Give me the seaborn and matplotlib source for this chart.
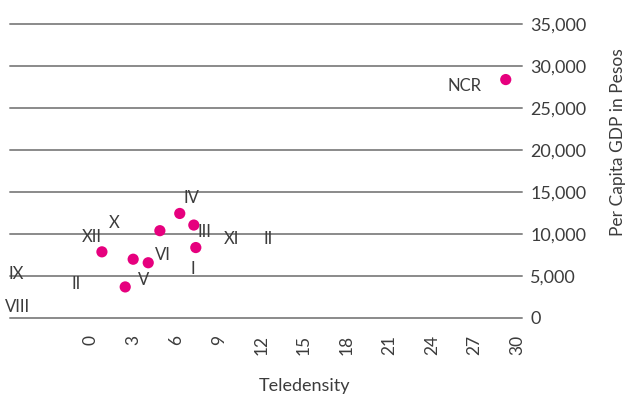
import numpy as np
import pandas as pd
import matplotlib.pyplot as plt
import seaborn as sns

# point data (teledensity, per capita GDP)
tele = [29.2, 6.25, 7.24, 4.85, 7.38, 0.77, 2.97, 4.03, 2.41]
gdp = [28400, 12450, 11070, 10400, 8390, 7880, 7000, 6580, 3700]

# region labels and where they sit
labels = ["NCR", "IV", "X", "XII", "III", "XI", "II", "VI", "I", "IX", "II", "V", "VIII"]
label_x = [26.3, 7.1, 1.62, 0.07, 8.0, 9.9, 12.5, 5.06, 7.17, -5.27, -1.05, 3.73, -5.2]
label_y = [27600, 14340, 11260, 9600, 10300, 9370, 9370, 7560, 5830, 5200, 4100, 4500, 1330]

xticks = list(range(0, 31, 3))
yticks = list(range(0, 35001, 5000))

df = pd.DataFrame({"tele": tele, "gdp": gdp})

sns.set_style("white")
plt.rcParams["font.family"] = ["Lato", "DejaVu Sans"]
txt = "#3c3c3c"

fig = plt.figure(figsize=(6.26, 3.96), dpi=100)
ax = fig.add_axes([0.016, 0.197, 0.818, 0.742])

for v in yticks:
    ax.axhline(v, color="#8a8a8a", lw=1.4, zorder=1, clip_on=False)

sns.scatterplot(data=df, x="tele", y="gdp", color="#e6007e", s=65,
                edgecolor="none", ax=ax, zorder=3)

for lab, lx, ly in zip(labels, label_x, label_y):
    ax.text(lx, ly, lab, ha="center", va="center", fontsize=12,
            color=txt, clip_on=False)

ax.set_xlim(-5.7, 30.35)
ax.set_ylim(0, 35000)
ax.set_xticks(xticks)
ax.set_xticklabels([str(t) for t in xticks], rotation=90, fontsize=12.5, color=txt)
ax.set_yticks(yticks)
ax.set_yticklabels([f"{t:,}" for t in yticks], fontsize=13, color=txt)
ax.yaxis.tick_right()
ax.tick_params(axis="y", length=0, pad=6)
ax.tick_params(axis="x", length=0, pad=12)

ax.set_xlabel("Teledensity", fontsize=13, color=txt)
ax.xaxis.set_label_coords((304 - 10) / 512, -0.205)
ax.set_ylabel("")
fig.text(618 / 626, 1 - 142 / 396, "Per Capita GDP in Pesos", rotation=90,
         ha="center", va="center", fontsize=12.5, color=txt)

for s in ax.spines.values():
    s.set_visible(False)

fig.savefig("out.png", dpi=100)
